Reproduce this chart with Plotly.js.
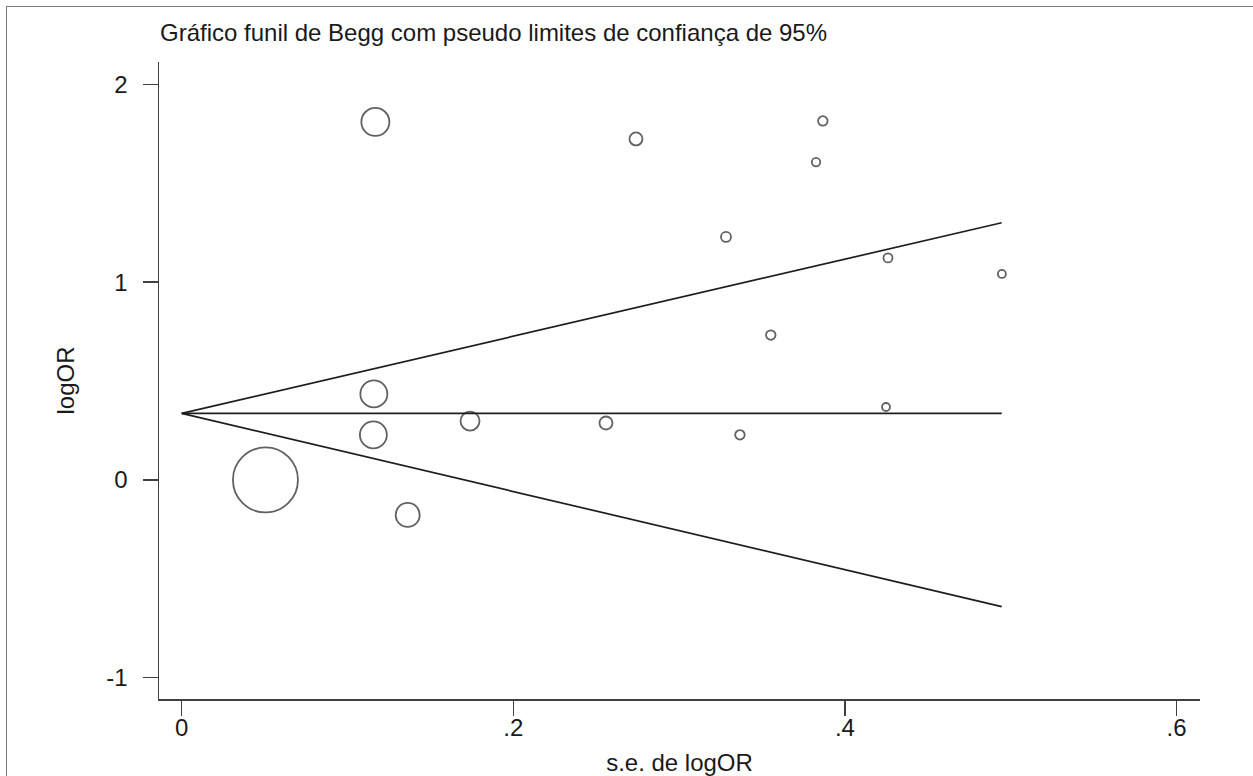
<!DOCTYPE html>
<html>
<head>
<meta charset="utf-8">
<script src="https://cdn.plot.ly/plotly-3.0.1.min.js"></script>
<style>
  html, body { margin: 0; padding: 0; overflow: hidden; background: #fff; }
  #chart { position: absolute; left: 0; top: 0; width: 1253px; height: 776px; }
  #frame { position: absolute; left: 6px; top: 6px; width: 1400px; height: 1000px;
           border: 1px solid #7a7a7a; pointer-events: none; }
</style>
</head>
<body>
<div id="chart"></div>
<div id="frame"></div>
<script>
// Study-level data
const seLogOR = [0.0505, 0.1168, 0.1159, 0.1156, 0.1363, 0.1739, 0.2559, 0.2740,
                 0.3283, 0.3367, 0.3553, 0.3826, 0.3867, 0.4248, 0.4260, 0.4947];
const logOR   = [0.000, 1.811, 0.435, 0.228, -0.177, 0.298, 0.288, 1.725,
                 1.229, 0.228, 0.733, 1.608, 1.816, 0.369, 1.123, 1.042];
const markerDiam = [65, 28, 27, 27, 24, 19, 13, 13, 10, 9.5, 9.5, 8.5, 9.5, 8, 9, 8];

// Pooled estimate and pseudo 95% confidence limits
const funnelSE    = [0, 0.4946];
const pooledLine  = [0.337, 0.337];
const upperLimit  = [0.337, 1.301];
const lowerLimit  = [0.337, -0.641];

// Tick labels
const xTickVals = [0, 0.2, 0.4, 0.6];
const xTickText = ["0", ".2", ".4", ".6"];
const yTickVals = [-1, 0, 1, 2];
const yTickText = ["-1", "0", "1", "2"];

const lineColor = '#1e1e1e';
const axisColor = '#404040';
const textColor = '#1a1a1a';
const fontFam = '"Liberation Sans", Arial, sans-serif';

const traces = [
  { x: funnelSE, y: upperLimit, mode: 'lines', line: { color: lineColor, width: 1.7 }, hoverinfo: 'skip' },
  { x: funnelSE, y: pooledLine, mode: 'lines', line: { color: lineColor, width: 1.7 }, hoverinfo: 'skip' },
  { x: funnelSE, y: lowerLimit, mode: 'lines', line: { color: lineColor, width: 1.7 }, hoverinfo: 'skip' },
  { x: seLogOR, y: logOR, mode: 'markers',
    marker: { symbol: 'circle-open', size: markerDiam, color: lineColor, line: { width: 1.8, color: lineColor } } }
];

const layout = {
  width: 1253, height: 776,
  showlegend: false,
  paper_bgcolor: '#ffffff', plot_bgcolor: '#ffffff',
  font: { family: fontFam, color: textColor },
  margin: { l: 159, r: 53, t: 62, b: 77, pad: 0 },
  title: {
    text: 'Gráfico funil de Begg com pseudo limites de confiança de 95%',
    font: { family: fontFam, size: 24, color: textColor },
    xref: 'container', x: 160 / 1253, xanchor: 'left',
    yref: 'container', y: 1 - 33 / 776, yanchor: 'middle'
  },
  xaxis: {
    range: [-0.0137, 0.6142], showgrid: false, zeroline: false,
    showline: true, linecolor: axisColor, linewidth: 1.5,
    ticks: 'outside', ticklen: 15, tickwidth: 1.5, tickcolor: axisColor,
    tickvals: xTickVals, ticktext: xTickText,
    tickfont: { family: fontFam, size: 24, color: textColor },
    ticklabelstandoff: -8,
    title: { text: 's.e. de logOR', font: { family: fontFam, size: 24, color: textColor } },
    automargin: false
  },
  yaxis: {
    range: [-1.108, 2.114], showgrid: false, zeroline: false,
    showline: true, linecolor: axisColor, linewidth: 1.5,
    ticks: 'outside', ticklen: 15, tickwidth: 1.5, tickcolor: axisColor,
    tickvals: yTickVals, ticktext: yTickText,
    tickfont: { family: fontFam, size: 24, color: textColor },
    ticklabelstandoff: 10,
    title: { text: 'logOR', font: { family: fontFam, size: 24, color: textColor }, standoff: 25 },
    automargin: false
  }
};

Plotly.newPlot('chart', traces, layout, { displayModeBar: false, staticPlot: true });
</script>
</body>
</html>
